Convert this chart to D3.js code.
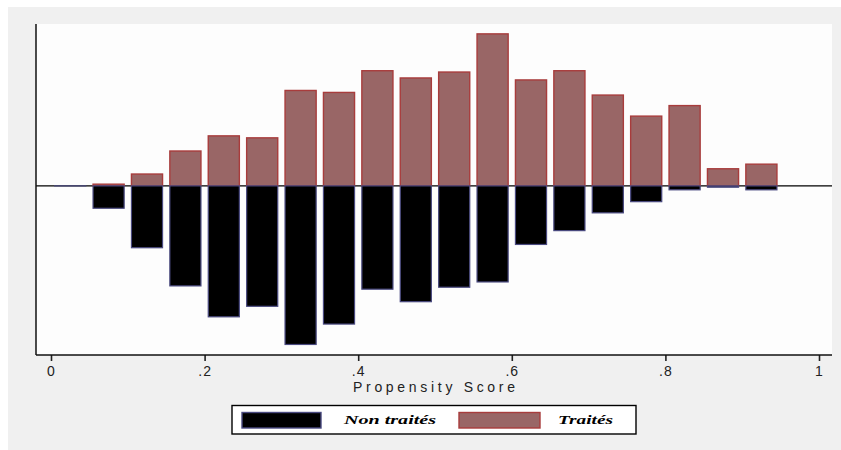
<!DOCTYPE html>
<html>
<head>
<meta charset="utf-8">
<script src="https://cdnjs.cloudflare.com/ajax/libs/d3/7.8.5/d3.min.js"></script>
<style>
  html, body { margin: 0; padding: 0; background: #ffffff; }
  svg { display: block; }
</style>
</head>
<body>
<svg id="chart" width="841" height="450"></svg>
<script>
// Bin centres of the propensity-score histogram (bin width 0.05)
const binCenters = [0.025, 0.075, 0.125, 0.175, 0.225, 0.275, 0.325, 0.375, 0.425, 0.475,
                    0.525, 0.575, 0.625, 0.675, 0.725, 0.775, 0.825, 0.875, 0.925];
// Density of treated (drawn upward)
const traites = [null, 0.026, 0.18, 0.53, 0.76, 0.73, 1.45, 1.42, 1.75, 1.64,
                 1.73, 2.31, 1.61, 1.75, 1.38, 1.06, 1.22, 0.26, 0.33];
// Density of non-treated (drawn downward)
const nonTraites = [0, 0.34, 0.94, 1.52, 1.99, 1.83, 2.41, 2.10, 1.57, 1.76,
                    1.54, 1.46, 0.89, 0.68, 0.41, 0.24, 0.06, 0.02, 0.06];
const xTicks = [0, 0.2, 0.4, 0.6, 0.8, 1];
const xTickLabels = ["0", ".2", ".4", ".6", ".8", "1"];
const xTitle = "Propensity Score";
const legendLabels = ["Non traités", "Traités"];

const binWidth = 0.05;
const barFrac = 0.81;

const svg = d3.select("#chart");

// outer grey background
svg.append("rect").attr("x", 8).attr("y", 7).attr("width", 833).attr("height", 443)
  .attr("fill", "#f0f0f0");

const plot = { left: 36, right: 832, top: 24, bottom: 355 };
svg.append("rect").attr("x", plot.left).attr("y", plot.top)
  .attr("width", plot.right - plot.left).attr("height", plot.bottom - plot.top)
  .attr("fill", "#fdfdfd");

const x = d3.scaleLinear().domain([0, 1]).range([51, 819]);
const y = d3.scaleLinear().domain([-2.57, 2.46]).range([plot.bottom, plot.top]);

const bw = x(binWidth * barFrac) - x(0);

// zero line (bars are drawn over it)
svg.append("line")
  .attr("x1", plot.left).attr("x2", plot.right)
  .attr("y1", y(0)).attr("y2", y(0))
  .attr("stroke", "#000").attr("stroke-width", 1.2);

// treated bars (upward)
svg.append("g").selectAll("rect")
  .data(binCenters.map((c, i) => ({ c, v: traites[i] })).filter(d => d.v !== null))
  .join("rect")
  .attr("x", d => x(d.c) - bw / 2)
  .attr("y", d => y(d.v))
  .attr("width", bw)
  .attr("height", d => Math.max(0.01, y(0) - y(d.v)))
  .attr("fill", "#996666")
  .attr("stroke", "#a83c3c")
  .attr("stroke-width", 1.4);

// non-treated bars (downward)
svg.append("g").selectAll("rect")
  .data(binCenters.map((c, i) => ({ c, v: nonTraites[i] })).filter(d => d.v !== null))
  .join("rect")
  .attr("x", d => x(d.c) - bw / 2)
  .attr("y", y(0))
  .attr("width", bw)
  .attr("height", d => Math.max(0.01, y(-d.v) - y(0)))
  .attr("fill", "#000000")
  .attr("stroke", "#4a4a80")
  .attr("stroke-width", 1.2);

// y axis line (no ticks)
svg.append("line")
  .attr("x1", plot.left).attr("x2", plot.left)
  .attr("y1", plot.top).attr("y2", plot.bottom)
  .attr("stroke", "#111").attr("stroke-width", 1.5);

// x axis
const xAxis = d3.axisBottom(x)
  .tickValues(xTicks)
  .tickFormat((d, i) => xTickLabels[i])
  .tickSize(6)
  .tickPadding(5)
  .tickSizeOuter(0);
const gx = svg.append("g").attr("transform", `translate(0,${plot.bottom})`).call(xAxis);
gx.select(".domain").remove();
gx.selectAll(".tick line").attr("stroke", "#222").attr("stroke-width", 1.6);
gx.selectAll(".tick text")
  .attr("fill", "#222")
  .attr("font-family", "Liberation Sans, Arial, sans-serif")
  .attr("font-size", 14)
  .attr("letter-spacing", 1);
svg.append("line")
  .attr("x1", plot.left).attr("x2", plot.right)
  .attr("y1", plot.bottom).attr("y2", plot.bottom)
  .attr("stroke", "#111").attr("stroke-width", 1.5);

// x title
svg.append("text")
  .attr("x", 434).attr("y", 392)
  .attr("text-anchor", "middle")
  .attr("font-family", "Liberation Sans, Arial, sans-serif")
  .attr("font-size", 14)
  .attr("fill", "#222")
  .attr("textLength", 162)
  .attr("lengthAdjust", "spacing")
  .text(xTitle);

// legend
const lg = svg.append("g");
lg.append("rect").attr("x", 232).attr("y", 405.5).attr("width", 404).attr("height", 28.5)
  .attr("fill", "#ffffff").attr("stroke", "#000").attr("stroke-width", 1.4);
lg.append("rect").attr("x", 242).attr("y", 412.5).attr("width", 79).attr("height", 15.5)
  .attr("fill", "#000").attr("stroke", "#4a4a80").attr("stroke-width", 1.4);
lg.append("rect").attr("x", 459).attr("y", 412.5).attr("width", 81).attr("height", 15.5)
  .attr("fill", "#996666").attr("stroke", "#a83c3c").attr("stroke-width", 1.4);
lg.append("text").attr("x", 344).attr("y", 424)
  .attr("font-family", "Liberation Serif, Times New Roman, serif")
  .attr("font-style", "italic").attr("font-weight", "bold")
  .attr("font-size", 13).attr("fill", "#000")
  .attr("textLength", 92).attr("lengthAdjust", "spacingAndGlyphs")
  .text(legendLabels[0]);
lg.append("text").attr("x", 558).attr("y", 424)
  .attr("font-family", "Liberation Serif, Times New Roman, serif")
  .attr("font-style", "italic").attr("font-weight", "bold")
  .attr("font-size", 13).attr("fill", "#000")
  .attr("textLength", 55).attr("lengthAdjust", "spacingAndGlyphs")
  .text(legendLabels[1]);
</script>
</body>
</html>
